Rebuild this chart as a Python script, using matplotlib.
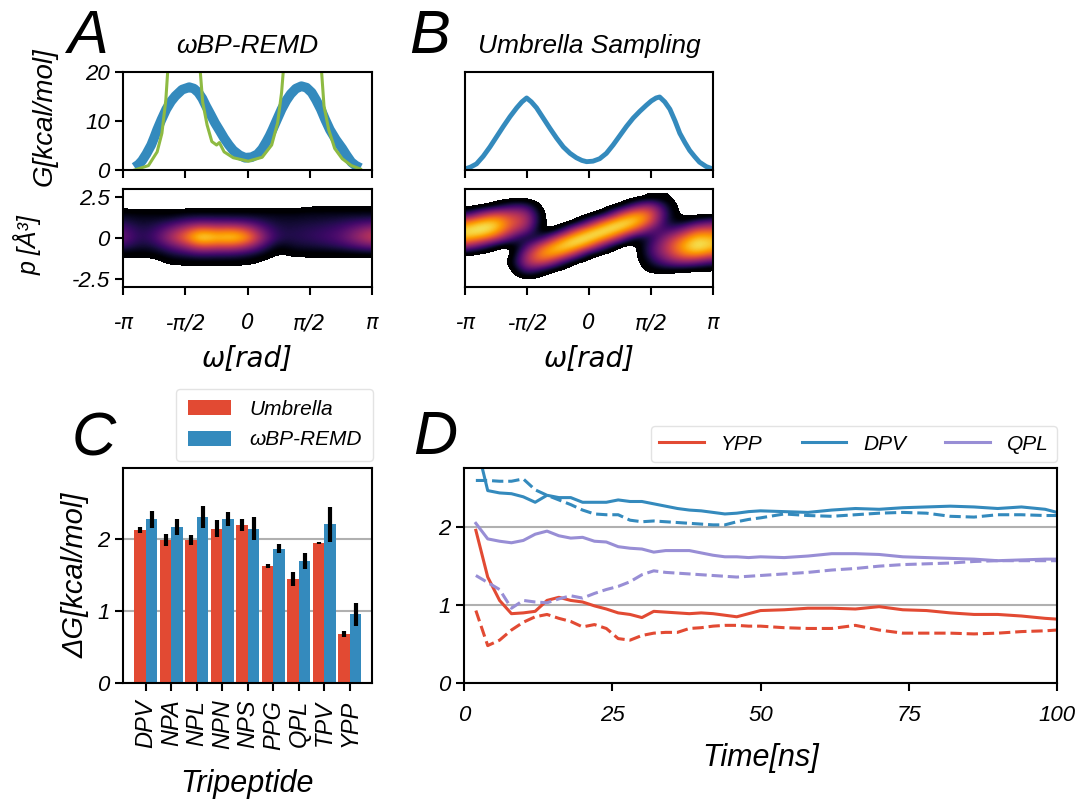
import numpy as np
import matplotlib
matplotlib.use("Agg")
import matplotlib.pyplot as plt
from matplotlib.lines import Line2D
from matplotlib.colors import ListedColormap

plt.rcParams.update({
    "font.family": ["Liberation Sans", "DejaVu Sans"],
    "font.style": "italic",
    "mathtext.fontset": "custom",
    "mathtext.it": "Liberation Sans:italic",
    "mathtext.rm": "Liberation Sans",
    "axes.linewidth": 1.5,
    "xtick.major.width": 1.5,
    "ytick.major.width": 1.5,
    "xtick.major.size": 6,
    "ytick.major.size": 6,
    "xtick.labelsize": 16,
    "ytick.labelsize": 16,
})

RED = "#E24A33"
BLUE = "#348ABD"
PURPLE = "#988ED5"
GREEN = "#8EBA42"
GRIDC = "#b0b0b0"

# ---------------- free energy profiles (panels A/B, top) ----------------
omega_remd = [-2.85, -2.75, -2.66, -2.55, -2.43, -2.35, -2.28, -2.17, -2.05, -1.93,
              -1.82, -1.65, -1.47, -1.35, -1.24, -1.14, -1.05, -0.93, -0.82, -0.70,
              -0.59, -0.47, -0.36, -0.20, -0.06, 0.10, 0.25, 0.37, 0.48, 0.56,
              0.63, 0.75, 0.86, 0.98, 1.09, 1.22, 1.36, 1.49, 1.62, 1.73,
              1.85, 1.96, 2.08, 2.23, 2.39, 2.50, 2.62, 2.73, 2.85]
g_remd = [0.55, 1.1, 1.9, 3.3, 5.1, 6.7, 8.2, 10.3, 12.4, 14.0,
          15.1, 16.4, 16.9, 16.6, 15.8, 14.6, 13.1, 11.3, 9.6, 8.0,
          6.5, 5.1, 4.0, 3.0, 2.5, 2.6, 3.2, 4.3, 5.8, 7.0,
          8.2, 10.4, 12.4, 14.2, 15.5, 16.6, 17.1, 16.8, 15.8, 14.3,
          12.4, 10.3, 8.2, 6.2, 4.4, 3.0, 1.6, 0.9, 0.4]

omega_ref = [-2.85, -2.5, -2.28, -2.16, -2.06, -1.95, -1.6, -1.25, -1.13, -1.02,
             -0.90, -0.78, -0.71, -0.59, -0.36, 0.02, 0.37, 0.61, 0.76, 0.86,
             0.98, 1.4, 1.8, 1.93, 2.05, 2.2, 2.39, 2.62, 2.85]
g_ref = [0.0, 0.9, 3.7, 7.5, 14.4, 28, 40, 26, 13.8, 9.2,
         5.8, 5.1, 5.6, 3.7, 2.5, 1.8, 2.6, 5.1, 9.6, 15.8,
         28, 40, 28, 13.1, 8.2, 4.4, 2.3, 0.9, 0.2]

omega_us = [-3.14, -3.0, -2.85, -2.68, -2.51, -2.34, -2.17, -2.0, -1.83, -1.70,
            -1.58, -1.46, -1.33, -1.16, -0.99, -0.82, -0.65, -0.48, -0.32, -0.18,
            -0.06, 0.10, 0.27, 0.44, 0.61, 0.78, 0.95, 1.12, 1.29, 1.45,
            1.58, 1.70, 1.79, 1.92, 2.05, 2.18, 2.30, 2.43, 2.55, 2.68,
            2.80, 2.97, 3.14]
g_us = [0.2, 0.6, 1.25, 2.8, 4.7, 6.8, 8.9, 10.9, 12.7, 13.9,
        14.7, 13.9, 12.7, 10.6, 8.5, 6.5, 4.7, 3.4, 2.5, 1.95,
        1.7, 1.8, 2.3, 3.4, 5.1, 7.0, 8.9, 10.6, 12.0, 13.2,
        14.1, 14.7, 14.9, 13.9, 12.4, 10.0, 7.5, 5.6, 4.0, 2.7,
        1.6, 0.7, 0.2]

# ---------------- density of (omega, p) samples (panels A/B, bottom) ----------------
# grid nodes: omega = -pi + k*pi/8 (k = 0..16), p = 2.5 ... -2.5 in steps of 0.5
density_remd = [
    [0] * 17,
    [0, 0, 0, 0, 0, 0, 0, 0, 0, 0, 0, 0, 0.3, 0.3, 0.3, 0.3, 0.3],
    [1.2, 1.1, 1.1, 0.9, 1.2, 1.2, 1.2, 1.2, 1.2, 1.2, 1.2, 1.2, 1.3, 1.3, 1.3, 1.3, 1.3],
    [2.0, 1.5, 1.6, 2.0, 2.6, 3.0, 2.8, 2.8, 2.6, 2.0, 1.6, 1.6, 1.7, 1.8, 2.0, 2.3, 2.5],
    [3.0, 1.9, 2.2, 3.6, 5.2, 7.0, 6.2, 6.6, 5.6, 3.2, 1.9, 1.9, 2.1, 2.3, 2.7, 3.6, 4.6],
    [3.5, 2.0, 2.5, 4.5, 6.5, 9.0, 8.0, 8.5, 7.5, 4.0, 2.0, 2.0, 2.2, 2.5, 3.0, 4.2, 5.4],
    [2.4, 1.6, 1.8, 3.0, 4.2, 6.0, 5.4, 5.6, 4.6, 2.6, 1.0, 1.6, 1.7, 1.9, 2.2, 2.8, 3.4],
    [0.8, 0.8, 0.9, 1.6, 2.0, 2.4, 2.2, 2.2, 1.8, 1.2, 0.3, 0.8, 0.8, 0.8, 0.8, 0.9, 0.9],
    [0, 0, 0, 0.75, 0.75, 0.8, 0.8, 0.8, 0.75, 0.3, 0, 0, 0, 0, 0, 0, 0],
    [0] * 17,
    [0] * 17,
]

# one column per omega node (p from 2.5 down to -2.5)
density_us_cols = [
    [0, 0, 1.6, 6.3, 8.4, 7.9, 4.7, 0.4, 0, 0, 0],
    [0, 0, 4.0, 7.9, 9.0, 7.3, 2.9, 0, 0, 0, 0],
    [0, 0.8, 5.6, 8.2, 8.2, 5.6, 0.8, 0, 0, 0, 0],
    [0, 2.2, 5.0, 6.0, 5.3, 2.9, 0, 0, 0.6, 0, 0],
    [0, 2.3, 4.5, 5.0, 3.8, 1.0, 2.7, 4.7, 4.9, 3.2, 0.3],
    [0, 0, 0.3, 0.3, 0, 2.0, 6.2, 7.5, 5.9, 1.3, 0],
    [0, 0, 0, 0, 0.65, 5.9, 8.4, 7.5, 3.2, 0, 0],
    [0, 0, 0, 0, 4.9, 8.5, 8.6, 5.1, 0.1, 0, 0],
    [0, 0, 0, 2.9, 7.7, 9.0, 6.6, 0.85, 0, 0, 0],
    [0, 0, 0.9, 6.7, 9.0, 7.6, 2.7, 0, 0, 0, 0],
    [0, 0.2, 5.2, 8.6, 8.4, 4.6, 0, 0, 0, 0, 0],
    [0, 3.0, 7.4, 8.4, 6.1, 0.75, 0, 0, 0, 0, 0],
    [0.5, 4.4, 6.4, 5.9, 2.9, 1.8, 2.6, 2.5, 1.6, 0.8, 0],
    [0.6, 1.5, 2.0, 1.5, 2.2, 4.2, 5.0, 4.6, 3.2, 0.8, 0],
    [0, 0, 0, 0.8, 3.6, 6.3, 7.5, 6.7, 4.0, 0.4, 0],
    [0, 0, 0, 2.2, 6.0, 8.3, 9.0, 7.4, 3.3, 0.3, 0],
    [0, 0, 0, 3.0, 5.9, 7.6, 7.9, 6.0, 2.2, 0.3, 0],
]

# ---------------- barrier heights (panel C) ----------------
peptides = ["DPV", "NPA", "NPL", "NPN", "NPS", "PPG", "QPL", "TPV", "YPP"]
dg_umbrella = [2.12, 1.98, 1.98, 2.14, 2.19, 1.62, 1.44, 1.94, 0.68]
err_umbrella = [0.04, 0.08, 0.07, 0.115, 0.08, 0.03, 0.10, 0.02, 0.04]
dg_remd = [2.27, 2.16, 2.30, 2.27, 2.14, 1.86, 1.69, 2.20, 0.95]
err_remd = [0.115, 0.11, 0.155, 0.10, 0.157, 0.06, 0.105, 0.245, 0.16]

# ---------------- convergence (panel D) ----------------
time_ns = [2, 4, 6, 8, 10, 12, 14, 16, 18, 20, 22, 24, 26, 28, 30, 32, 34, 36, 38,
           40, 42, 44, 46, 48, 50, 54, 58, 62, 66, 70, 74, 78, 82, 86, 90, 94, 98, 100]
dpv_solid = [3.1, 2.47, 2.44, 2.43, 2.39, 2.32, 2.41, 2.38, 2.38, 2.32, 2.32, 2.32, 2.35,
             2.33, 2.33, 2.30, 2.27, 2.24, 2.22, 2.21, 2.19, 2.17, 2.18, 2.20, 2.21, 2.20,
             2.19, 2.22, 2.24, 2.23, 2.25, 2.26, 2.27, 2.26, 2.24, 2.26, 2.23, 2.19]
dpv_dashed = [2.60, 2.60, 2.59, 2.59, 2.62, 2.48, 2.41, 2.35, 2.29, 2.22, 2.17, 2.16, 2.16,
              2.09, 2.07, 2.08, 2.07, 2.06, 2.05, 2.04, 2.03, 2.03, 2.07, 2.10, 2.12, 2.17,
              2.15, 2.14, 2.16, 2.18, 2.19, 2.18, 2.14, 2.13, 2.16, 2.16, 2.15, 2.15]
qpl_solid = [2.05, 1.85, 1.82, 1.80, 1.83, 1.91, 1.95, 1.89, 1.86, 1.87, 1.82, 1.81, 1.75,
             1.73, 1.72, 1.68, 1.70, 1.70, 1.70, 1.67, 1.64, 1.62, 1.62, 1.61, 1.62, 1.61,
             1.63, 1.66, 1.66, 1.65, 1.62, 1.61, 1.60, 1.59, 1.57, 1.58, 1.59, 1.59]
qpl_dashed = [1.38, 1.29, 1.20, 0.96, 1.06, 1.04, 1.03, 1.08, 1.12, 1.09, 1.15, 1.20, 1.24,
              1.30, 1.39, 1.44, 1.42, 1.41, 1.40, 1.39, 1.38, 1.37, 1.36, 1.37, 1.38, 1.40,
              1.42, 1.45, 1.47, 1.50, 1.52, 1.53, 1.54, 1.56, 1.57, 1.57, 1.57, 1.57]
ypp_solid = [1.96, 1.36, 1.06, 0.89, 0.90, 0.92, 1.06, 1.10, 1.06, 1.04, 0.99, 0.95, 0.90,
             0.88, 0.84, 0.92, 0.91, 0.90, 0.89, 0.90, 0.89, 0.87, 0.85, 0.89, 0.93, 0.94,
             0.96, 0.96, 0.95, 0.98, 0.94, 0.93, 0.90, 0.88, 0.88, 0.86, 0.83, 0.82]
ypp_dashed = [0.93, 0.48, 0.55, 0.68, 0.78, 0.85, 0.88, 0.83, 0.79, 0.72, 0.75, 0.70, 0.57,
              0.55, 0.61, 0.64, 0.65, 0.65, 0.70, 0.71, 0.73, 0.74, 0.74, 0.73, 0.73, 0.71,
              0.70, 0.70, 0.74, 0.68, 0.64, 0.64, 0.64, 0.63, 0.64, 0.66, 0.67, 0.68]

pi_ticks = [-np.pi, -np.pi / 2, 0, np.pi / 2, np.pi]
pi_labels = ["-π", "-π/2", "0", "π/2", "π"]

W, H = 1080, 802
fig = plt.figure(figsize=(W / 100, H / 100), dpi=100)


def box(l, t, r, b):
    return [l / W, 1 - b / H, (r - l) / W, (b - t) / H]


def frac_x(px, l, r):
    return (px - l) / (r - l)


def frac_y(py, t, b):
    return (b - py) / (b - t)


ax_a1 = fig.add_axes(box(123, 72, 372, 170))
ax_a2 = fig.add_axes(box(123, 189, 372, 287))
ax_b1 = fig.add_axes(box(465, 72, 713, 170))
ax_b2 = fig.add_axes(box(465, 189, 713, 287))
ax_c = fig.add_axes(box(123, 468, 372, 683))
ax_d = fig.add_axes(box(464, 468, 1057, 683))

for ax in fig.axes:
    for s in ax.spines.values():
        s.set_color("black")

# ---- A top
ax_a1.plot(omega_remd, g_remd, color=BLUE, lw=7, solid_capstyle="butt", solid_joinstyle="round")
ax_a1.plot(omega_ref, g_ref, color=GREEN, lw=2.2)
ax_a1.set_xlim(-2.85, 2.85)
ax_a1.set_ylim(0, 20)
ax_a1.set_yticks([0, 10, 20])
ax_a1.set_xticks(pi_ticks)
ax_a1.set_xticklabels([])
ax_a1.set_ylabel("G[kcal/mol]", fontsize=20)
ax_a1.yaxis.set_label_coords(frac_x(58, 123, 372), frac_y(117, 72, 170))
ax_a1.set_title("ωBP-REMD", fontsize=19, pad=14)

# ---- B top
ax_b1.plot(omega_us, g_us, color=BLUE, lw=3.5, solid_joinstyle="round")
ax_b1.set_xlim(-np.pi, np.pi)
ax_b1.set_ylim(0, 20)
ax_b1.set_yticks([])
ax_b1.set_xticks(pi_ticks)
ax_b1.set_xticklabels([])
ax_b1.set_title("Umbrella Sampling", fontsize=19, pad=14)

# ---- density maps (inferno with a short black head for the sparse rim)
base = plt.get_cmap("inferno")(np.linspace(0, 1, 256))
rim = np.tile(base[:1], (14, 1))
cmap = ListedColormap(np.vstack([rim, base])).with_extremes(under=(1, 1, 1, 0))
step = np.pi / 8
ext = [-np.pi - step / 2, np.pi + step / 2, -2.75, 2.75]
ax_a2.imshow(np.array(density_remd), extent=ext, origin="upper", aspect="auto",
             cmap=cmap, vmin=0.5, vmax=9, interpolation="bicubic",
             interpolation_stage="data")
ax_b2.imshow(np.array(density_us_cols).T, extent=ext, origin="upper", aspect="auto",
             cmap=cmap, vmin=0.5, vmax=9, interpolation="bicubic",
             interpolation_stage="data")
for ax in (ax_a2, ax_b2):
    ax.set_xlim(-np.pi, np.pi)
    ax.set_ylim(-3, 3)
    ax.set_xticks(pi_ticks)
    ax.set_xticklabels(pi_labels, fontfamily="DejaVu Sans", fontsize=15)
    ax.tick_params(axis="x", pad=13)
    ax.set_xlabel("ω[rad]", fontfamily="DejaVu Sans", fontsize=20, labelpad=8)
ax_a2.set_yticks([-2.5, 0, 2.5])
ax_a2.set_yticklabels(["-2.5", "0", "2.5"])
ax_a2.set_ylabel("p [Å³]", fontsize=18)
ax_a2.yaxis.set_label_coords(frac_x(42, 123, 372), frac_y(245, 189, 287))
ax_b2.set_yticks([])

# ---- C bars
x = np.arange(len(peptides))
bw = 0.45
ax_c.set_axisbelow(True)
ax_c.yaxis.grid(True, color=GRIDC, lw=1.5)
ax_c.bar(x - bw / 2, dg_umbrella, bw, color=RED, label="Umbrella", zorder=2)
ax_c.bar(x + bw / 2, dg_remd, bw, color=BLUE, label="ωBP-REMD", zorder=2)
ax_c.errorbar(x - bw / 2, dg_umbrella, yerr=err_umbrella, fmt="none", ecolor="black",
              elinewidth=3, capsize=0, zorder=3)
ax_c.errorbar(x + bw / 2, dg_remd, yerr=err_remd, fmt="none", ecolor="black",
              elinewidth=3, capsize=0, zorder=3)
ax_c.set_xlim(-0.9, 8.87)
ax_c.set_ylim(0, 2.98)
ax_c.set_yticks([0, 1, 2])
ax_c.set_xticks(x)
ax_c.set_xticklabels(peptides, rotation=90, fontsize=17)
ax_c.tick_params(axis="x", pad=6)
ax_c.set_ylabel("ΔG[kcal/mol]", fontsize=21, labelpad=6)
ax_c.set_xlabel("Tripeptide", fontsize=22, labelpad=14)
ax_c.legend(loc="lower right", bbox_to_anchor=(1.004, 1.033), borderaxespad=0,
            fontsize=15, handlelength=2.1, handleheight=0.75, borderpad=0.55,
            labelspacing=0.55, handletextpad=0.85, edgecolor="#dddddd", fancybox=True)

# ---- D convergence
ax_d.set_axisbelow(True)
ax_d.yaxis.grid(True, color=GRIDC, lw=1.5)
ax_d.plot(time_ns, ypp_solid, color=RED, lw=2.2)
ax_d.plot(time_ns, ypp_dashed, color=RED, lw=2.2, ls="--")
ax_d.plot(time_ns, dpv_solid, color=BLUE, lw=2.2)
ax_d.plot(time_ns, dpv_dashed, color=BLUE, lw=2.2, ls="--")
ax_d.plot(time_ns, qpl_solid, color=PURPLE, lw=2.2)
ax_d.plot(time_ns, qpl_dashed, color=PURPLE, lw=2.2, ls="--")
ax_d.set_xlim(0, 100)
ax_d.set_ylim(0, 2.76)
ax_d.set_xticks([0, 25, 50, 75, 100])
ax_d.set_yticks([0, 1, 2])
ax_d.tick_params(axis="x", pad=10)
ax_d.set_xlabel("Time[ns]", fontsize=22, labelpad=12)
handles = [Line2D([], [], color=c, lw=2.2) for c in (RED, BLUE, PURPLE)]
ax_d.legend(handles, ["YPP", "DPV", "QPL"], loc="lower right", ncol=3,
            bbox_to_anchor=(1.0, 1.028), borderaxespad=0, fontsize=15,
            handlelength=2.15, columnspacing=1.9, handletextpad=0.8,
            edgecolor="#dddddd", fancybox=True)

# ---- panel letters
for letter, px, py in (("A", 64, 53), ("B", 409, 53), ("C", 71, 454), ("D", 413, 454)):
    fig.text(px / W, 1 - py / H, f"${letter}$", fontsize=44,
             ha="left", va="baseline")

fig.savefig("out.png", dpi=100)
